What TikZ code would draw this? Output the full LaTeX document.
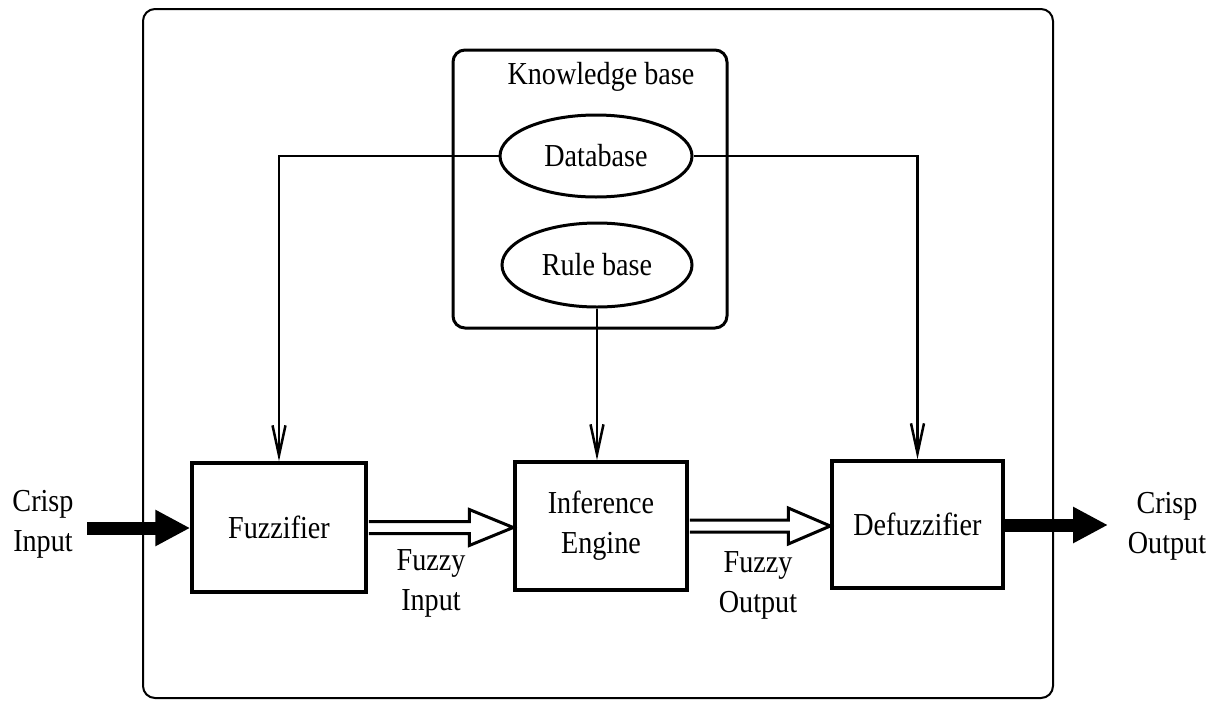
\documentclass[tikz,border=0pt]{standalone}
\usepackage{fontspec}
\setmainfont{Liberation Serif}[FakeStretch=0.88]
\usetikzlibrary{arrows.meta,calc,shapes.geometric}
\begin{document}
\begin{tikzpicture}[x=1pt,y=-1pt,
  every node/.style={font=\fontsize{32}{40}\selectfont, inner sep=0pt},
  blockbox/.style={draw, line width=3.5pt, minimum width=#1, anchor=center},
  ellbox/.style={draw, ellipse, line width=3pt},
  conn/.style={line width=2.5pt, -{Straight Barb[length=30pt,width=13pt,line width=2.5pt]}},
  thickarrow/.style={line width=13pt, -{Triangle[length=35pt,width=34pt]}},
  hollow/.style={draw, line width=3pt, fill=white, line join=miter},
  lbl/.style={align=center}
]
\useasboundingbox (0,0) rectangle (1216,702);
% outer frame
\node[draw, line width=2pt, rounded corners=12pt, minimum width=910pt, minimum height=689pt] (frame) at (598,353.5) {};
% knowledge base
\node[draw, line width=3pt, rounded corners=12pt, minimum width=274pt, minimum height=278pt] (kb) at (590,189) {};
\node (kbl) at (601,77) {Knowledge base};
\node[ellbox, minimum width=192pt, minimum height=82pt] (db) at (596,156) {Database};
\node[ellbox, minimum width=190pt, minimum height=84pt] (rb) at (597,265) {Rule base};
% blocks
\node[blockbox=174pt, minimum height=129pt] (fuz) at (279,527.5) {Fuzzifier};
\node[blockbox=172pt, minimum height=128pt, align=center] (inf) at (601,526) {Inference\\Engine};
\node[blockbox=171pt, minimum height=127pt] (def) at (917.5,524.5) {Defuzzifier};
% labels
\node[lbl] (ci) at (43,524) {Crisp\\Input};
\node[lbl] (fi) at (431,583) {Fuzzy\\Input};
\node[lbl] (fo) at (758,585) {Fuzzy\\Output};
\node[lbl] (co) at (1167,526) {Crisp\\Output};
% connectors
\draw[conn] (db.west) -| (fuz.north);
\draw[conn] (db.east) -| (def.north);
\draw[conn] (rb.south) -- (rb.south |- inf.north);
% crisp arrows
\coordinate (cistart) at (87,528);
\coordinate (coend) at (1108,525);
\draw[thickarrow] (cistart) -- (fuz.west |- cistart);
\draw[thickarrow] (def.east |- coend) -- (coend);
% hollow double arrows
\draw[hollow] ($(fuz.east)+(1,-6)$) -- ($(inf.west |- fuz.east)+(-44,-6)$) -- ($(inf.west |- fuz.east)+(-44,-18)$)
  -- ($(inf.west |- fuz.east)+(0,0)$) -- ($(inf.west |- fuz.east)+(-44,18)$) -- ($(inf.west |- fuz.east)+(-44,6)$) -- ($(fuz.east)+(1,6)$);
\draw[hollow] ($(inf.east)+(1,-6)$) -- ($(def.west |- inf.east)+(-42,-6)$) -- ($(def.west |- inf.east)+(-42,-18)$)
  -- ($(def.west |- inf.east)+(0,0)$) -- ($(def.west |- inf.east)+(-42,18)$) -- ($(def.west |- inf.east)+(-42,6)$) -- ($(inf.east)+(1,6)$);
\end{tikzpicture}
\end{document}
